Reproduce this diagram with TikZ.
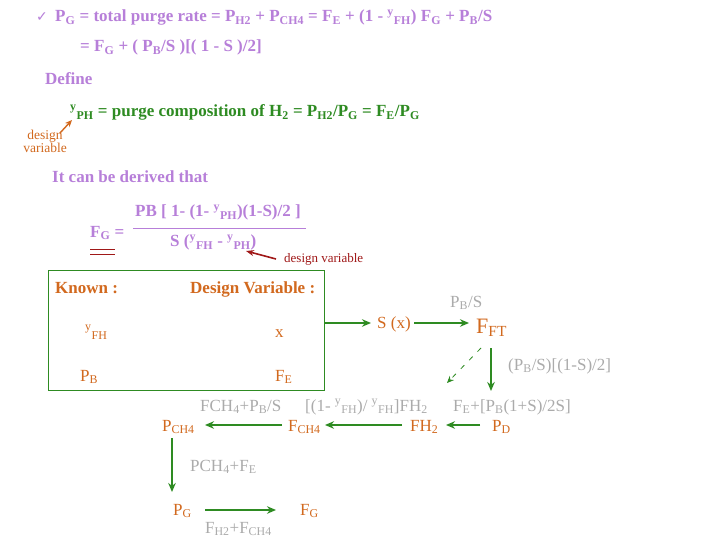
\documentclass[tikz,border=0pt]{standalone}
\usepackage{fontspec}
\setmainfont{Liberation Serif}
\usetikzlibrary{arrows.meta}
\definecolor{pur}{HTML}{B77FD9}
\definecolor{grn}{HTML}{2E8B22}
\definecolor{org}{HTML}{D2691E}
\definecolor{gry}{HTML}{ABABAB}
\definecolor{drd}{HTML}{A01818}
\newcommand{\ys}[1]{\textsuperscript{y}\textsubscript{#1}}
\begin{document}
\begin{tikzpicture}[x=1pt,y=-1pt,
  every node/.style={inner sep=0pt,anchor=base west},
  ptxt/.style={text=pur,font=\fontsize{17}{19}\selectfont\bfseries},
  var/.style={text=org,font=\fontsize{17}{19}\selectfont},
  lab/.style={text=gry,font=\fontsize{17}{19}\selectfont},
  flow/.style={draw=grn,line width=1.6pt,-{Stealth[length=9pt,width=7.5pt]}}]
\useasboundingbox (0,0) rectangle (720,540);
\fill[white] (0,0) rectangle (720,540);
\node[text=pur,font=\fontsize{14}{14}\selectfont] (chk) at (36,22) {\fontspec{DejaVu Sans}✓};
\node[ptxt] (l1) at (55,22) {P\textsubscript{G} = total purge rate = P\textsubscript{H2} + P\textsubscript{CH4} = F\textsubscript{E} + (1 - \ys{FH}) F\textsubscript{G} + P\textsubscript{B}/S};
\node[ptxt] (l2) at (80,52) {= F\textsubscript{G} + ( P\textsubscript{B}/S )[( 1 - S )/2]};
\node[ptxt] (def) at (45,85) {Define};
\node[ptxt,text=grn] (yph) at (70,117) {\ys{PH} = purge composition of H\textsubscript{2} = P\textsubscript{H2}/P\textsubscript{G} = F\textsubscript{E}/P\textsubscript{G}};
\node[text=org,font=\fontsize{13.5}{13}\selectfont,align=center,anchor=north] (dv1) at (45,130) {design\\variable};
\draw[draw=org,line width=1.4pt,-{Stealth[length=7pt,width=6pt]}] (60,133) -- (72,120);
\node[ptxt] (der) at (52,183) {It can be derived that};
\node[ptxt] (num) at (135,217) {PB [ 1- (1- \ys{PH})(1-S)/2 ]};
\draw[pur,line width=0.8pt] (133,228) -- (306,228);
\node[ptxt] (den) at (170,247) {S (\ys{FH} - \ys{PH})};
\node[ptxt] (fg) at (90,237) {F\textsubscript{G} =};
\draw[drd,line width=1pt] (90,249) -- (115,249) (90,254) -- (115,254);
\node[text=drd,font=\fontsize{13}{13}\selectfont] (dv2) at (284,262) {design variable};
\draw[draw=drd,line width=1.6pt,-{Stealth[length=8pt,width=6pt]}] (276,259) -- (246,251);
\draw[grn,line width=1pt] (48,270) rectangle (324,390);
\node[ptxt,text=org] (kn) at (55,293) {Known :};
\node[ptxt,text=org] (dvv) at (190,293) {Design Variable :};
\node[var] (yfh) at (85,337) {\ys{FH}};
\node[var] (x) at (275,337) {x};
\node[var] (pb) at (80,381) {P\textsubscript{B}};
\node[var] (fe) at (275,381) {F\textsubscript{E}};
\coordinate (boxr) at (324,323);
\coordinate (sxin) at (371,323);
\node[var] (sx) at (377,328) {S (x)};
\draw[flow] (boxr) -- (sxin);
\node[var,font=\fontsize{22}{22}\selectfont] (fft) at (476,333) {F\textsubscript{FT}};
\node[lab] (pbs) at (450,307) {P\textsubscript{B}/S};
\draw[flow] (414,323) -- (469,323);
\node[lab] (pb2) at (508,370) {(P\textsubscript{B}/S)[(1-S)/2]};
\node[lab] (fe2) at (453,411) {F\textsubscript{E}+[P\textsubscript{B}(1+S)/2S]};
\node[var] (pd) at (492,431) {P\textsubscript{D}};
\draw[flow] (491,348) -- (491,391);
\draw[grn,line width=0.8pt,dash pattern=on 5pt off 7pt,-{Stealth[length=7pt,width=6pt]}] (481,348) -- (447,383);
\node[var] (fh2) at (410,431) {FH\textsubscript{2}};
\node[var] (fch4) at (288,431) {F\textsubscript{CH4}};
\node[var] (pch4) at (162,431) {P\textsubscript{CH4}};
\node[lab] (l3) at (200,411) {FCH\textsubscript{4}+P\textsubscript{B}/S};
\node[lab] (l4) at (305,411) {[(1- \ys{FH})/ \ys{FH}]FH\textsubscript{2}};
\draw[flow] (480,425) -- (446,425);
\draw[flow] (402,425) -- (325,425);
\draw[flow] (282,425) -- (205,425);
\draw[flow] (172,438) -- (172,492);
\node[lab] (l5) at (190,471) {PCH\textsubscript{4}+F\textsubscript{E}};
\node[var] (pg) at (173,515) {P\textsubscript{G}};
\node[var] (fgg) at (300,515) {F\textsubscript{G}};
\draw[flow] (205,510) -- (276,510);
\node[lab] (l6) at (205,533) {F\textsubscript{H2}+F\textsubscript{CH4}};
\end{tikzpicture}
\end{document}
